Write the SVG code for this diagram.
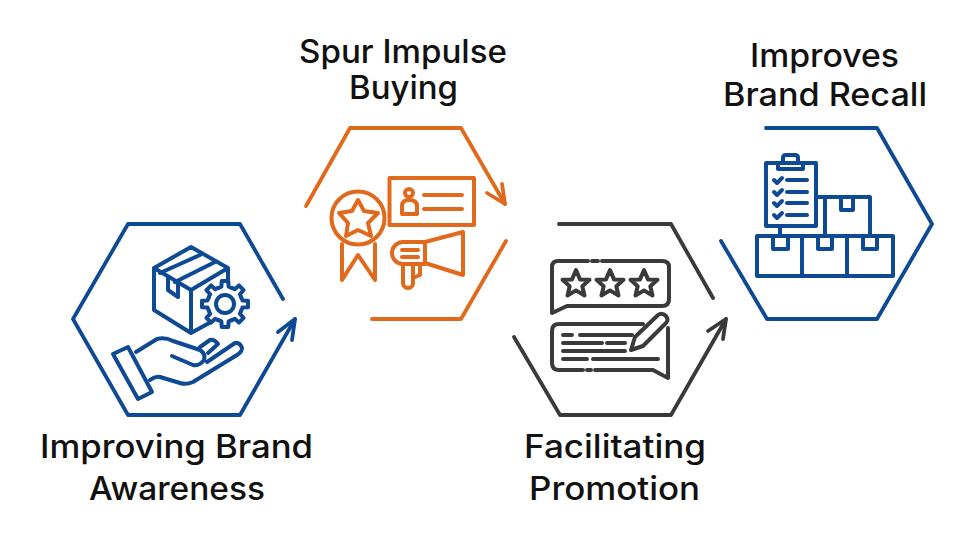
<svg xmlns="http://www.w3.org/2000/svg" xmlns:xlink="http://www.w3.org/1999/xlink" width="968" height="542" viewBox="0 0 968 542">
<style>
.t{font-family:"Inter","Liberation Sans",sans-serif;font-size:32px;font-weight:500;fill:#111;text-anchor:middle}
.blue,.orange,.dark{fill:none;stroke-linecap:round;stroke-linejoin:round}
.blue{stroke:#0e4a93}.orange{stroke:#e0691c}.dark{stroke:#3a3a3a}
.h{stroke-width:3.8}.i{stroke-width:4}
</style>
<defs>
<path id="tooth" d="M-6.700-16.200L-3.600-17.400L-3.300-23H3.300L3.600-17.400L6.700-16.200"/>
<path id="star" d="M0-14L4-4.600L13.500-4.200L6.300 2.200L8.500 11.500L0 6.400L-8.500 11.500L-6.300 2.200L-13.500-4.200L-4-4.600Z"/>
</defs>
<rect width="968" height="542" fill="#fff"/>
<g id="connectors">
<path class="blue h" d="M283 299L240 224H128L73 319L128 415H240L295 319"/>
<path class="blue h" d="M278 332L295 319L292 340"/>
<path class="orange h" d="M306 206L350 128H461L505 204"/>
<path class="orange h" d="M487 193L505 204L502 184"/>
<path class="orange h" d="M506 241L461 319H372"/>
<path class="dark h" d="M559 224H671L713 298"/>
<path class="dark h" d="M514 337L560 415H671L726 319"/>
<path class="dark h" d="M708 331L726 319L723 339"/>
<path class="blue h" d="M766 128H877L932 224L877 319H767L721 241"/>
</g>
<g id="node-awareness">
<g class="blue i">
<path d="M154 268L191 247L228 268V282M154 268V310L191 333L211 322M154 268L191 290V333M191 290L228 268"/>
<path d="M160 273L200 255M175 282L215 262M168 278V290L178 297V282"/>
<path d="M113 354L128 347L152 392L138 399Z"/>
<path d="M136 352L157 339Q165 337 173 341L200 350Q206 354 204 360Q200 366 193 365L172 356M200 347L210 340Q214 339 218 344L208 353M207 362L235 343Q240 342 242 348Q242 352 237 355L193 382Q186 385 180 383L160 377Q155 376 150 380"/>
<circle cx="225" cy="304" r="18.500" fill="#fff" stroke="none"/>
<circle cx="225" cy="304" r="9"/>
<g transform="translate(225 304)">
<use xlink:href="#tooth"/><use xlink:href="#tooth" transform="rotate(45)"/><use xlink:href="#tooth" transform="rotate(90)"/><use xlink:href="#tooth" transform="rotate(135)"/><use xlink:href="#tooth" transform="rotate(180)"/><use xlink:href="#tooth" transform="rotate(225)"/><use xlink:href="#tooth" transform="rotate(270)"/><use xlink:href="#tooth" transform="rotate(315)"/>
</g>
</g>
<text class="t" x="176.500" y="458" textLength="273" lengthAdjust="spacingAndGlyphs">Improving Brand</text>
<text class="t" x="177" y="500" textLength="176" lengthAdjust="spacingAndGlyphs">Awareness</text>
</g>
<g id="node-impulse">
<g class="orange i">
<circle cx="358" cy="218" r="26.500"/>
<path d="M358 200L364 211L378 213L368 223L371 236L358 230L346 236L348 223L339 213L352 211Z"/>
<path d="M342 244V280L358 255L375 280V244"/>
<rect x="389.500" y="178" width="84.500" height="47"/>
<circle cx="409" cy="193" r="4"/>
<path d="M402 214V206Q402 200 409 200Q417 200 417 206V214Z"/>
<path d="M424 195H462M424 209H462"/>
<path d="M425 242L463 232V275L425 263ZM425 242H403A11 11 0 0 0 403 264H425"/>
<path d="M402 250H418M402 257H418"/>
<path d="M403 265V283A5 5 0 0 0 413 283V265M420 267V275L413 278"/>
</g>
<text class="t" x="403" y="63" textLength="208" lengthAdjust="spacingAndGlyphs">Spur Impulse</text>
<text class="t" x="403.500" y="99" textLength="109" lengthAdjust="spacingAndGlyphs">Buying</text>
</g>
<g id="node-promotion">
<g class="dark i">
<path d="M588 261H558Q552 261 552 267V313L567 306H662Q669 306 669 299V267Q669 261 662 261H602M592 261H598"/>
<use xlink:href="#star" transform="translate(576 284)"/>
<use xlink:href="#star" transform="translate(610 284)"/>
<use xlink:href="#star" transform="translate(644 284)"/>
<path d="M643 324H559Q552 324 552 331V363Q552 370 559 370H583M587 370H591M595 370H653L668 378V328"/>
<path d="M563 335H572M580 335H632M563 343H602M607 343H625M563 351H625M563 359H587M593 359H658"/>
<path d="M631 350L635 337L658 315Q662 312 666 316Q669 320 666 323L643 346Z"/>
</g>
<text class="t" x="615" y="458" textLength="182" lengthAdjust="spacingAndGlyphs">Facilitating</text>
<text class="t" x="614.500" y="500" textLength="171" lengthAdjust="spacingAndGlyphs">Promotion</text>
</g>
<g id="node-recall">
<g class="blue i">
<rect x="766" y="163" width="50" height="63"/>
<path d="M778 163V169H803V163H798V158Q798 155 795 155H786Q783 155 783 158V163Z"/>
<path d="M787 180H807M787 192H807M787 203H807M787 215H807"/>
<path d="M774 180L777 183L782 178M774 192L777 195L782 190M774 203L777 206L782 201M774 215L777 218L782 213"/>
<path d="M780 226V236"/>
<rect x="757" y="236" width="136" height="40"/>
<path d="M802 236V276M847 236V276"/>
<path d="M773 236V249H788V236M818 236V249H832V236M863 236V249H877V236"/>
<path d="M816 197H870V236M825 197V236M841 197V210H853V197"/>
</g>
<text class="t" x="824.500" y="67" textLength="149" lengthAdjust="spacingAndGlyphs">Improves</text>
<text class="t" x="825" y="106" textLength="204" lengthAdjust="spacingAndGlyphs">Brand Recall</text>
</g>
</svg>
